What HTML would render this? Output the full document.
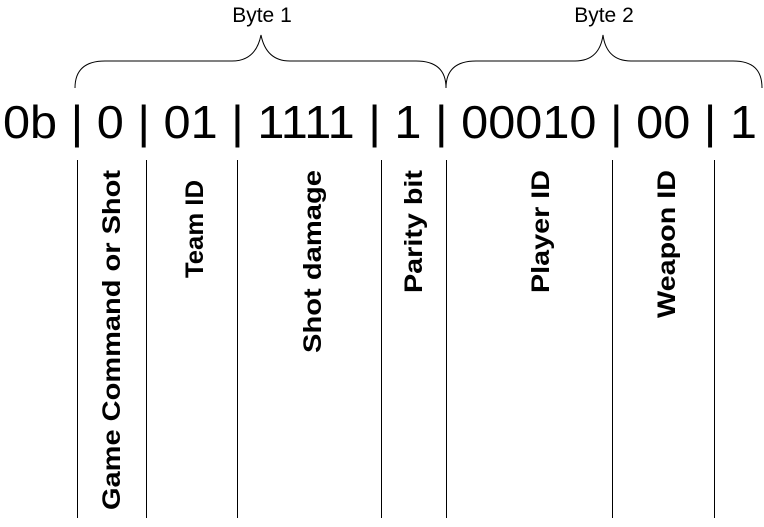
<!DOCTYPE html>
<html><head><style>html,body{margin:0;padding:0;background:#fff}</style></head><body>
<svg width="764" height="522" xmlns="http://www.w3.org/2000/svg" font-family="Liberation Sans, sans-serif">
<rect width="764" height="522" fill="#fff"/>
<text x="262" y="22" font-size="21" text-anchor="middle">Byte 1</text>
<text x="604" y="22" font-size="21" text-anchor="middle">Byte 2</text>
<g fill="none" stroke="#000" stroke-width="1">
<path d="M75,88 C75,70 85,61 105,61 L232,61 C250,61 258,50 261,35 C264,50 272,61 290,61 L416,61 C436,61 446,70 446,88"/>
<path d="M446,88 C446,70 456,61 476,61 L575,61 C593,61 601,50 603,35 C605,50 613,61 631,61 L733,61 C753,61 762,70 762,88"/>
</g>
<text x="3" y="138" font-size="46" textLength="754" lengthAdjust="spacingAndGlyphs">0b | 0 | 01 | 1111 | 1 | 00010 | 00 | 1</text>
<g stroke="#000" stroke-width="1">
<line x1="77.5" y1="160" x2="77.5" y2="518"/>
<line x1="146.5" y1="160" x2="146.5" y2="518"/>
<line x1="237.5" y1="160" x2="237.5" y2="518"/>
<line x1="381.5" y1="160" x2="381.5" y2="518"/>
<line x1="446.5" y1="160" x2="446.5" y2="518"/>
<line x1="612.5" y1="160" x2="612.5" y2="518"/>
<line x1="714.5" y1="160" x2="714.5" y2="518"/>
</g>
<g font-size="25" font-weight="bold" text-anchor="end">
<text transform="translate(120,170) rotate(-90)" textLength="340" lengthAdjust="spacingAndGlyphs">Game Command or Shot</text>
<text transform="translate(203,180) rotate(-90)" textLength="98" lengthAdjust="spacingAndGlyphs">Team ID</text>
<text transform="translate(321,170) rotate(-90)" textLength="183" lengthAdjust="spacingAndGlyphs">Shot damage</text>
<text transform="translate(422,170) rotate(-90)" textLength="123" lengthAdjust="spacingAndGlyphs">Parity bit</text>
<text transform="translate(549,170) rotate(-90)" textLength="123" lengthAdjust="spacingAndGlyphs">Player ID</text>
<text transform="translate(675,170) rotate(-90)" textLength="148" lengthAdjust="spacingAndGlyphs">Weapon ID</text>
</g>
</svg>
</body></html>
